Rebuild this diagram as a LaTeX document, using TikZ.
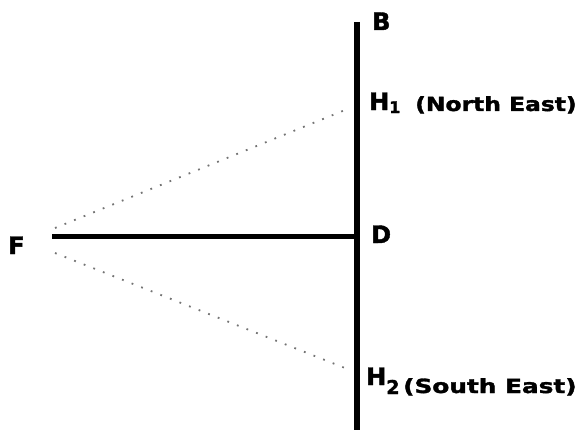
\documentclass[tikz,border=0pt]{standalone}
\usepackage{fontspec}
\setmainfont{DejaVu Sans}
\newfontfamily\heavyfont{DejaVu Sans Bold}[FakeBold=1.6]
\usetikzlibrary{positioning, calc}

\begin{document}
\begin{tikzpicture}[
  x=1pt, y=1pt,
  lbl/.style={inner sep=0pt, anchor=base west,
    font=\fontsize{24}{27}\heavyfont},
  side/.style={inner sep=0pt, anchor=base west,
    font=\fontsize{19.5}{22}\heavyfont},
  wall/.style={line width=5.5pt},
  sight/.style={line width=1.8pt, black!55, dash pattern=on 1.8pt off 8.5pt}
]
  \useasboundingbox (0,0) rectangle (578,432);

  % main lines
  \coordinate (top) at (357,410);
  \coordinate (bot) at (357,2);
  \coordinate (d) at (357,196);
  \coordinate (f) at (52,196);
  \draw[wall] (top) -- (bot);
  \draw[wall, line width=5pt] (f) -- (d);

  % labels
  \node[lbl] (b) at (372,402) {B};
  \node[lbl] (h1) at (369,322) {H\raisebox{-3pt}{\fontsize{16}{18}\selectfont 1}};
  \node[side] (ne) at (415,321) {\scalebox{1.2}[1]{(North East)}};
  \node[lbl] (dl) at (371,189) {D};
  \node[lbl] (fl) at (8,178) {F};
  \node[lbl] (h2) at (366,47) {H\raisebox{-9pt}{\fontsize{19}{21}\selectfont 2}};
  \node[side] (se) at (403,39) {\scalebox{1.27}[1]{(South East)}};

  % sight lines
  \coordinate (f1) at (55,204);
  \coordinate (f2) at (55,179);
  \coordinate (n1) at (350,324);
  \coordinate (n2) at (350,62);
  \draw[sight] (f1) -- (n1);
  \draw[sight] (f2) -- (n2);
\end{tikzpicture}
\end{document}
